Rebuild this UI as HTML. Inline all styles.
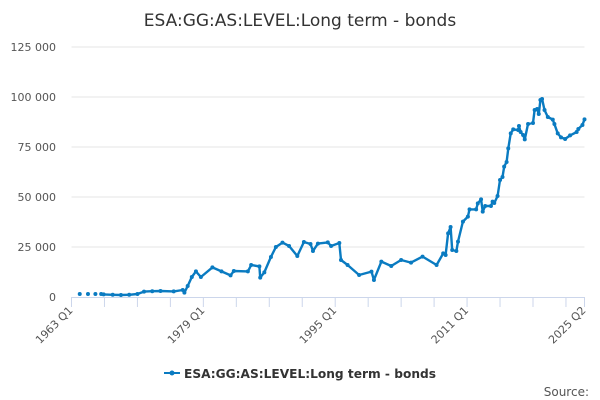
<!DOCTYPE html>
<html><head><meta charset="utf-8"><style>
html,body{margin:0;padding:0;background:#fff;width:600px;height:400px;overflow:hidden}
svg{font-family:"DejaVu Sans","Liberation Sans",sans-serif}
</style></head><body>
<svg id="chart" width="600" height="400">
<text x="300" y="26" text-anchor="middle" font-size="17" fill="#333">ESA:GG:AS:LEVEL:Long term - bonds</text>
<g id="grid"></g><g id="xaxis"></g><g id="yaxis"></g><g id="series"></g>
<g>
<line x1="164" y1="373" x2="180" y2="373" stroke="#0a7bc1" stroke-width="2"/>
<circle cx="172" cy="373" r="2.5" fill="#0a7bc1"/>
<text x="184" y="378" font-size="12.2" font-weight="bold" fill="#333">ESA:GG:AS:LEVEL:Long term - bonds</text>
</g>
<text x="589" y="396" text-anchor="end" font-size="12" fill="#555">Source:</text>
</svg>
<script>
const yTicks=[0,25000,50000,75000,100000,125000];
const yTickLabels=["0","25 000","50 000","75 000","100 000","125 000"];
const xTickLabels=["1963 Q1","1979 Q1","1995 Q1","2011 Q1","2025 Q2"];
const xTickYears=[1963,1979,1995,2011,2025.25];
const dotYears=[1964,1965,1965.9];
const dotValues=[1500,1500,1500];
const lineYears=[1966.6,1966.9,1968,1969,1970,1971,1971.8,1972.8,1973.8,1975.4,1976.5,1976.7,1977.1,1977.6,1978.1,1978.7,1980.1,1981.2,1982.3,1982.7,1984.4,1984.8,1985.8,1985.9,1986.4,1987.2,1987.8,1988.6,1989.4,1990.4,1991.2,1992,1992.3,1992.9,1994.1,1994.5,1995.5,1995.7,1996.5,1997.9,1999.4,1999.7,2000.6,2001.8,2003,2004.2,2005.6,2007.3,2008.1,2008.4,2008.7,2009,2009.2,2009.7,2009.9,2010.5,2011.1,2011.3,2012.1,2012.3,2012.7,2012.9,2013.2,2013.9,2014.1,2014.3,2014.7,2015,2015.3,2015.5,2015.8,2016,2016.3,2016.6,2017.2,2017.3,2017.5,2017.8,2018,2018.4,2019,2019.2,2019.5,2019.7,2019.9,2020.1,2020.4,2020.8,2021.4,2021.6,2022,2022.4,2022.9,2023.5,2024.3,2024.5,2025,2025.25];
const lineValues=[1500,1300,1100,1000,1100,1500,2700,2900,3000,2800,3500,2200,5500,10000,12800,10000,14800,12800,10800,13000,12800,16000,15300,9700,12300,20000,25000,27200,25500,20500,27500,26500,23000,26700,27300,25500,27000,18500,16000,11000,12700,8500,17700,15500,18500,17200,20200,16000,21800,21000,31800,35000,23500,23000,27700,37700,40200,43800,43800,46800,48800,42700,45500,45500,47700,47000,50500,58500,60000,65200,67500,74300,81800,83800,83500,85500,82500,81000,78800,86500,87000,93500,94000,91500,98500,99000,93500,90000,88700,86500,81800,79800,79000,80800,82500,84000,86000,88800];
const NS="http://www.w3.org/2000/svg";
const X0=71.5,X1=584.5,Y0=297,Y1=47;
const xs=y=>X0+(y-1963)/(2025.25-1963)*(X1-X0);
const ys=v=>Y0-(v/125000)*(Y0-Y1);
function mk(t,a,p){const e=document.createElementNS(NS,t);for(const k in a)e.setAttribute(k,a[k]);p.appendChild(e);return e;}
const grid=document.getElementById('grid'),ya=document.getElementById('yaxis'),xa=document.getElementById('xaxis'),se=document.getElementById('series');
yTicks.forEach((v,i)=>{
 if(v>0){const g=mk('line',{x1:X0,x2:X1,y1:ys(v),y2:ys(v),stroke:'#e6e6e6','stroke-width':1},grid);
 
 }
 const t=mk('text',{x:56,y:ys(v)+4,'text-anchor':'end','font-size':11,fill:'#555'},ya);t.textContent=yTickLabels[i];
 
 
});
const ax=mk('line',{x1:X0,x2:X1,y1:Y0+0.5,y2:Y0+0.5,stroke:'#ccd6eb','stroke-width':1},xa);


for(let y=1963;y<=2025.3;y+=4){const l=mk('line',{x1:xs(y),x2:xs(y),y1:Y0,y2:Y0+10,stroke:'#ccd6eb'},xa);
 
 }
const lt=mk('line',{x1:X1,x2:X1,y1:Y0,y2:Y0+10,stroke:'#ccd6eb'},xa);


xTickLabels.forEach((s,i)=>{const x=xs(xTickYears[i]);
 const t=mk('text',{x:x+2,y:Y0+14,'text-anchor':'end','font-size':11,fill:'#555',transform:`rotate(-45 ${x+2} ${Y0+14})`},xa);t.textContent=s;
 
 });
dotYears.forEach((y,i)=>{const c=mk('circle',{cx:xs(y),cy:ys(dotValues[i]),r:2,fill:'#0a7bc1'},se);
 
 });
const d=lineYears.map((y,i)=>(i?'L':'M')+xs(y).toFixed(1)+' '+ys(lineValues[i]).toFixed(1)).join('');
const p=mk('path',{d:d,fill:'none',stroke:'#0a7bc1','stroke-width':2.4,'stroke-linejoin':'round'},se);


lineYears.forEach((y,i)=>{const c=mk('circle',{cx:xs(y),cy:ys(lineValues[i]),r:2,fill:'#0a7bc1'},se);
 
 });
</script>
</body></html>
